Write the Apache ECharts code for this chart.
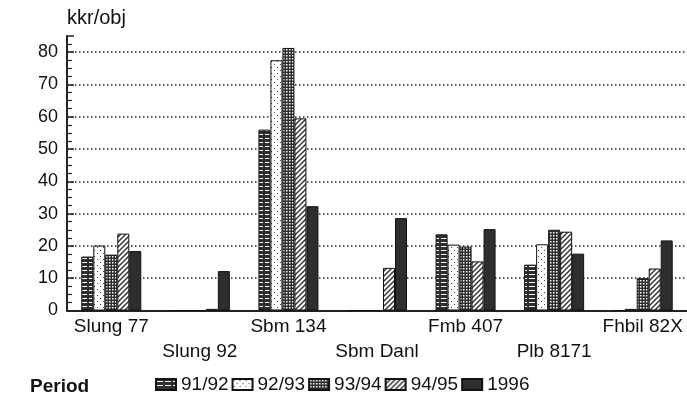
<!DOCTYPE html>
<html>
<head>
<meta charset="utf-8">
<script src="https://cdn.jsdelivr.net/npm/echarts@6/dist/echarts.min.js"></script>
<style>
  html, body { margin: 0; padding: 0; background: #fff; }
  #chart { width: 687px; height: 401px; }
</style>
</head>
<body>
<div id="chart"></div>
<script>
// Cost per object (kkr/obj) by vehicle type and period
const categories = ['Slung 77', 'Slung 92', 'Sbm 134', 'Sbm Danl', 'Fmb 407', 'Plb 8171', 'Fhbil 82X'];
const periods = ['91/92', '92/93', '93/94', '94/95', '1996'];
const v9192 = [16.7, 0, 56, 0, 23.6, 14.2, 0];
const v9293 = [20.1, 0, 77.5, 0, 20.4, 20.5, 0.5];
const v9394 = [17.3, 0, 81.3, 0, 19.8, 25.0, 10.0];
const v9495 = [23.8, 0.5, 59.5, 13.2, 15.2, 24.4, 13.0];
const v1996 = [18.4, 12.2, 32.3, 28.6, 25.2, 17.6, 21.7];
const yTicks = [0, 10, 20, 30, 40, 50, 60, 70, 80];

const DARK = '#2e2e2e';

// Small tiled canvases used as hatch fills
function tile(w, h, draw) {
  const c = document.createElement('canvas');
  c.width = w; c.height = h;
  const ctx = c.getContext('2d');
  draw(ctx, w, h);
  return { image: c, repeat: 'repeat' };
}
const fillHoriz = tile(8, 4, (ctx, w, h) => {
  ctx.fillStyle = DARK; ctx.fillRect(0, 0, w, h);
  ctx.fillStyle = '#fff'; ctx.fillRect(1, 2, 6, 1);
});
const fillDots = tile(6, 6, (ctx, w, h) => {
  ctx.fillStyle = '#fff'; ctx.fillRect(0, 0, w, h);
  ctx.fillStyle = '#444';
  ctx.fillRect(1, 1, 1, 1);
  ctx.fillRect(4, 4, 1, 1);
});
const fillGrid = tile(3, 3, (ctx, w, h) => {
  ctx.fillStyle = DARK; ctx.fillRect(0, 0, w, h);
  ctx.fillStyle = '#fff'; ctx.fillRect(1, 1, 1.5, 1.5);
});
const fillDiag = tile(5, 5, (ctx, w, h) => {
  ctx.fillStyle = '#fff'; ctx.fillRect(0, 0, w, h);
  ctx.strokeStyle = DARK; ctx.lineWidth = 1.4;
  ctx.beginPath();
  ctx.moveTo(-1, 6); ctx.lineTo(6, -1);
  ctx.moveTo(-1, 1); ctx.lineTo(1, -1);
  ctx.moveTo(4, 6); ctx.lineTo(6, 4);
  ctx.stroke();
});

const fills = [fillHoriz, fillDots, fillGrid, fillDiag, DARK];
const values = [v9192, v9293, v9394, v9495, v1996];

const FONT = 'Liberation Sans';
const INK = '#111';

const chart = echarts.init(document.getElementById('chart'), null, { renderer: 'canvas' });
chart.setOption({
  animation: false,
  backgroundColor: '#fff',
  textStyle: { fontFamily: FONT, color: INK },
  title: {
    text: 'Period',
    left: 25, top: 372,
    textStyle: { fontFamily: FONT, fontSize: 19, fontWeight: 'bold', color: INK }
  },
  legend: {
    left: 150, top: 370,
    icon: 'rect',
    itemWidth: 20, itemHeight: 11,
    itemGap: 3,
    textStyle: { fontFamily: FONT, fontSize: 19, color: INK },
    data: periods
  },
  grid: { left: 67, top: 36, width: 627, height: 274.5 },
  xAxis: {
    type: 'category',
    data: categories,
    axisLine: { lineStyle: { color: '#222', width: 2 } },
    axisTick: { show: false },
    axisLabel: {
      interval: 0,
      margin: 4,
      fontSize: 19,
      lineHeight: 25,
      color: INK,
      formatter: (v, i) => (i % 2 ? '\n' + v : v)
    }
  },
  yAxis: {
    type: 'value',
    min: 0, max: 85, interval: 10,
    name: 'kkr/obj',
    nameLocation: 'end',
    nameGap: 8,
    nameTextStyle: { fontSize: 20, align: 'left', color: INK },
    axisLine: { show: true, lineStyle: { color: '#222', width: 2 } },
    axisTick: { show: true, inside: true, length: 7, lineStyle: { color: '#222', width: 1.5 } },
    minorTick: { show: true, splitNumber: 4, length: 5, lineStyle: { color: '#222', width: 1.2 } },
    axisLabel: {
      fontSize: 18, color: INK, margin: 9,
      showMaxLabel: false,
      formatter: v => (yTicks.indexOf(v) >= 0 ? String(v) : '')
    },
    splitLine: {
      show: true,
      showMinLine: false,
      showMaxLine: false,
      lineStyle: { color: '#222', width: 1.5, type: [1.5, 2.5] }
    }
  },
  series: periods.map((p, k) => ({
    name: p,
    type: 'bar',
    data: values[k],
    barWidth: 12,
    barGap: '0%',
    itemStyle: { color: fills[k], borderColor: '#111', borderWidth: 1 }
  }))
});
</script>
</body>
</html>
